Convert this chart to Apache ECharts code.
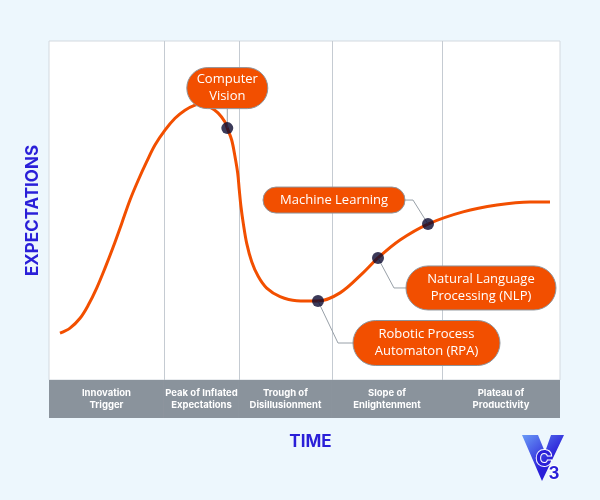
<!DOCTYPE html>
<html><head><meta charset="utf-8">
<script src="https://cdn.jsdelivr.net/npm/echarts@6/dist/echarts.min.js"></script>
<style>html,body{margin:0;padding:0;background:#EDF7FD}#c{width:600px;height:500px}</style>
</head><body><div id="c"></div>
<script>
// Hype-cycle curve (time 0..100, expectations 0..100)
const curveX = [2.15, 4.11, 6.07, 7.69, 9.33, 10.96, 12.58, 14.23, 15.85, 17.48, 19.12, 20.74, 22.70, 24.66, 26.61, 28.57, 29.75, 31.51, 33.07, 34.44, 34.89, 35.75, 36.40, 36.93, 37.24, 37.57, 38.02, 38.69, 39.67, 40.96, 42.60, 45.21, 48.47, 52.64, 56.95, 61.45, 64.38, 68.69, 74.17, 81.02, 87.67, 94.13, 98.04];
const curveY = [13.8, 15.3, 18.2, 22.1, 27.1, 33.0, 39.3, 46.2, 53.1, 59.0, 64.4, 69.3, 73.7, 77.2, 79.6, 81.1, 81.4, 80.5, 78.8, 76.1, 74.3, 70.8, 65.9, 61.0, 56.0, 51.1, 46.2, 40.3, 34.9, 30.5, 27.1, 24.6, 23.4, 23.3, 25.7, 31.6, 36.0, 41.3, 46.0, 49.6, 51.6, 52.5, 52.5];
// Phases
const phaseNames = ['Innovation\nTrigger', 'Peak of Inflated\nExpectations', 'Trough of\nDisillusionment', 'Slope of\nEnlightenment', 'Plateau of\nProductivity'];
const phaseBounds = [0, 22.5, 37.18, 55.38, 76.91, 100];
// Technologies
const techNames = ['Computer\nVision', 'Machine Learning', 'Natural Language\nProcessing (NLP)', 'Robotic Process\nAutomaton (RPA)'];
const techX = [34.89, 74.17, 64.38, 52.64];
const techY = [74.3, 46.0, 36.0, 23.3];

// layout of the annotation boxes (pixel offsets from each dot)
const boxLayout = [
  {dx: 0, dy: -40, w: 81, h: 41, conn: [[0, -19.5], [0, 0]]},
  {dx: -94, dy: -24, w: 142, h: 26, conn: [[-23, -24], [-15, -24], [0, 0]]},
  {dx: 103, dy: 30, w: 150, h: 44, conn: [[28, 30], [16, 30], [0, 0]]},
  {dx: 108.5, dy: 42, w: 147, h: 45, conn: [[35, 42], [20, 42], [0, 0]]}
];

const ORANGE = '#F24F00';
const BLUE = '#2A1FD8';
const FONT = '"Open Sans", sans-serif';

const chart = echarts.init(document.getElementById('c'), null, {renderer: 'canvas'});
const phaseData = phaseNames.map((n, i) => [phaseBounds[i], phaseBounds[i + 1], n]);
const dividerData = phaseBounds.slice(1, -1).map(b => [b]);

chart.setOption({
  backgroundColor: '#EDF7FD',
  animation: false,
  grid: [
    {left: 49, right: 40, top: 41, height: 339, show: true, backgroundColor: '#ffffff', borderColor: '#D3D9DF', borderWidth: 1},
    {left: 49, right: 40, top: 380, height: 38, show: false}
  ],
  xAxis: [
    {gridIndex: 0, type: 'value', min: 0, max: 100, show: false},
    {gridIndex: 1, type: 'value', min: 0, max: 100, axisLine: {show: false}, axisTick: {show: false}, axisLabel: {show: false}, splitLine: {show: false},
     name: 'TIME', nameLocation: 'middle', nameGap: 15,
     nameTextStyle: {color: BLUE, fontWeight: 'bold', fontSize: 17, fontFamily: 'Inter, sans-serif', padding: [0, 0, 0, 12]}}
  ],
  yAxis: [
    {gridIndex: 0, type: 'value', min: 0, max: 100, axisLine: {show: false}, axisTick: {show: false}, axisLabel: {show: false}, splitLine: {show: false},
     name: 'EXPECTATIONS', nameLocation: 'middle', nameGap: 8,
     nameTextStyle: {color: BLUE, fontWeight: 'bold', fontSize: 17, fontFamily: 'Inter, sans-serif'}},
    {gridIndex: 1, type: 'value', min: 0, max: 1, show: false}
  ],
  series: [
    {
      type: 'custom', xAxisIndex: 0, yAxisIndex: 0, z: 1, silent: true,
      data: dividerData,
      renderItem: (params, api) => {
        const p0 = api.coord([api.value(0), 0]);
        const p1 = api.coord([api.value(0), 100]);
        return {type: 'line', shape: {x1: Math.round(p0[0]) + 0.5, y1: p0[1], x2: Math.round(p1[0]) + 0.5, y2: p1[1]}, style: {stroke: '#C5CBD2', lineWidth: 1}};
      }
    },
    {
      type: 'line', xAxisIndex: 0, yAxisIndex: 0, z: 3, silent: true,
      data: curveX.map((x, i) => [x, curveY[i]]),
      smooth: 0.35, showSymbol: false, symbol: 'none',
      lineStyle: {color: ORANGE, width: 3}
    },
    {
      type: 'scatter', xAxisIndex: 0, yAxisIndex: 0, z: 6, silent: true,
      data: techX.map((x, i) => ({name: techNames[i], value: [x, techY[i]]})),
      symbolSize: 12, itemStyle: {color: '#0A0930'}
    },
    {
      type: 'custom', xAxisIndex: 1, yAxisIndex: 1, silent: true,
      data: phaseData,
      renderItem: (params, api) => {
        const a = api.coord([api.value(0), 0]);
        const b = api.coord([api.value(1), 1]);
        return {type: 'group', children: [
          {type: 'rect', shape: {x: a[0], y: b[1], width: b[0] - a[0], height: a[1] - b[1]}, style: {fill: '#8A939C'}},
          {type: 'text', style: {x: (a[0] + b[0]) / 2, y: (a[1] + b[1]) / 2, text: phaseNames[params.dataIndex], fill: '#ffffff', font: 'bold 9.5px Inter, sans-serif', align: 'center', verticalAlign: 'middle', lineHeight: 12}}
        ]};
      }
    }
  ]
});

const graphics = [];
techX.forEach((x, i) => {
  const p = chart.convertToPixel({gridIndex: 0}, [x, techY[i]]);
  const L = boxLayout[i];
  graphics.push({type: 'polyline', silent: true, z: 4, shape: {points: L.conn.map(c => [p[0] + c[0], p[1] + c[1]])}, style: {stroke: '#98A0A8', lineWidth: 1, fill: null}});
  graphics.push({type: 'rect', silent: true, z: 5, shape: {x: p[0] + L.dx - L.w / 2, y: p[1] + L.dy - L.h / 2, width: L.w, height: L.h, r: L.h / 2}, style: {fill: ORANGE, stroke: '#8E949B', lineWidth: 1}});
  graphics.push({type: 'text', silent: true, z: 6, style: {x: p[0] + L.dx, y: p[1] + L.dy, text: techNames[i], fill: '#ffffff', font: '13px ' + FONT, align: 'center', verticalAlign: 'middle', lineHeight: 17}});
});
// logo
graphics.push({type: 'polygon', silent: true, shape: {points: [[522, 435], [538, 435], [545, 452], [551, 435], [564, 435], [542, 481]]},
  style: {fill: new echarts.graphic.LinearGradient(0, 0, 1, 1, [{offset: 0, color: '#6A9BF7'}, {offset: 0.6, color: '#2A1FD8'}, {offset: 1, color: '#2A1FD8'}])}});
graphics.push({type: 'text', silent: true, style: {x: 544, y: 459, text: 'C', fill: '#2A1FD8', stroke: '#ffffff', lineWidth: 2, font: 'bold 22px Inter, sans-serif', align: 'center', verticalAlign: 'middle'}});
graphics.push({type: 'text', silent: true, style: {x: 554, y: 474, text: '3', fill: '#2A1FD8', stroke: '#ffffff', lineWidth: 2, font: 'bold 17px Inter, sans-serif', align: 'center', verticalAlign: 'middle'}});
chart.setOption({graphic: graphics});
</script>
</body></html>
